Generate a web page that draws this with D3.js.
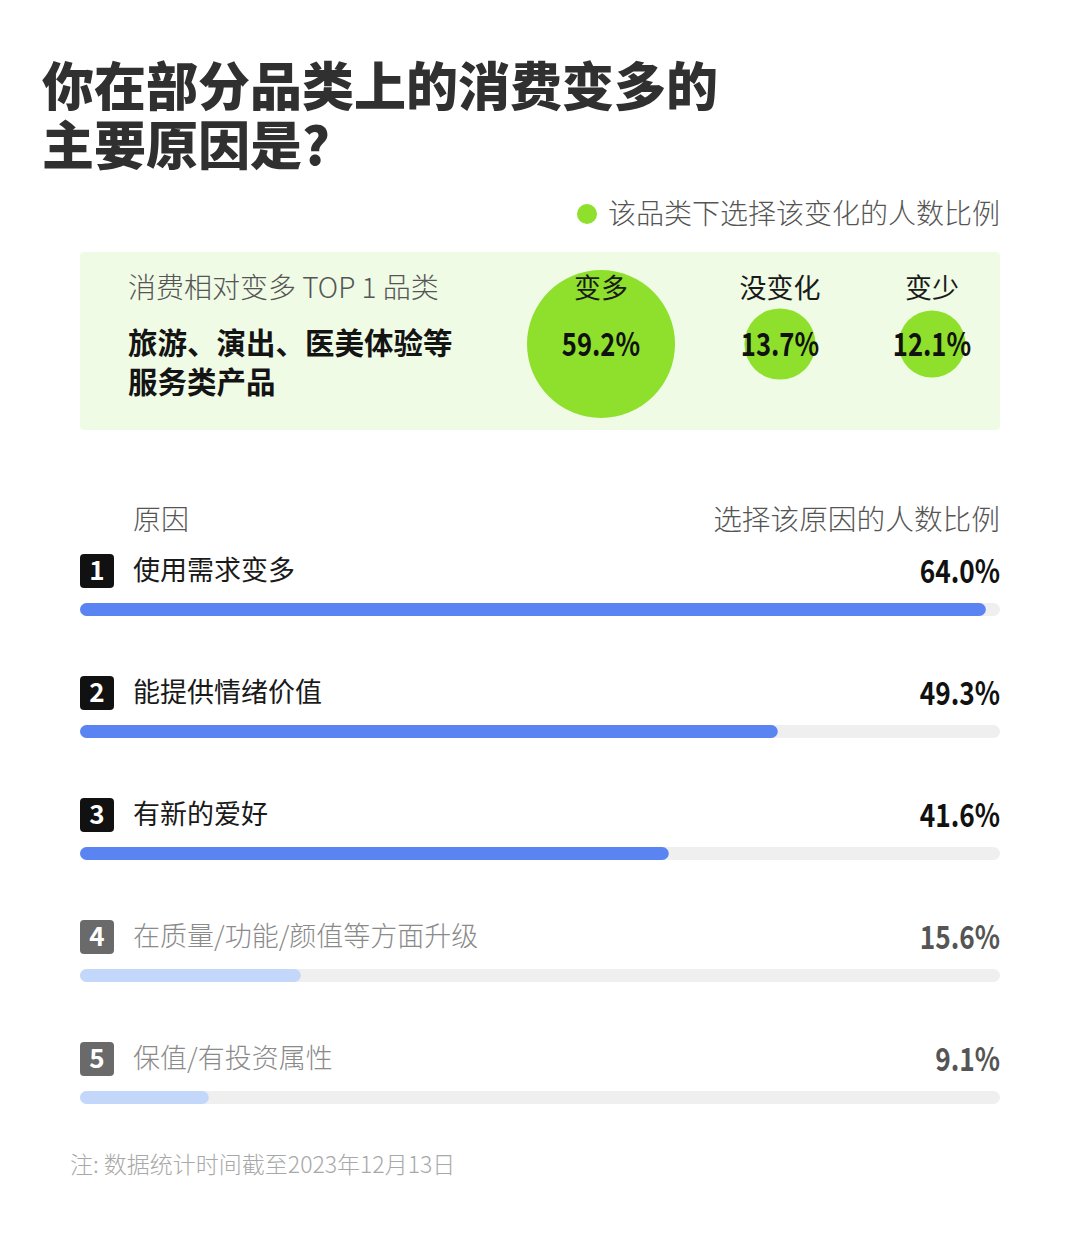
<!DOCTYPE html>
<html>
<head>
<meta charset="utf-8">
<script src="https://d3js.org/d3.v7.min.js"></script>
<style>
  body { margin: 0; background: #fff; }
  svg text { font-family: "Noto Sans CJK SC", "Noto Sans", sans-serif; }
</style>
</head>
<body>
<div id="chart"></div>
<script>
    const width = 1080
    const height = 1248

    // top-1 category: share of respondents by change
    const changeLabels = ["变多", "没变化", "变少"]
    const changeValues = [59.2, 13.7, 12.1]

    // reasons for spending more
    const reasons = ["使用需求变多", "能提供情绪价值", "有新的爱好", "在质量/功能/颜值等方面升级", "保值/有投资属性"]
    const reasonValues = [64.0, 49.3, 41.6, 15.6, 9.1]

    const numFont = '"Noto Sans", "DejaVu Sans", sans-serif'

    const svg = d3.select("#chart").append("svg")
        .attr("width", width).attr("height", height)

    // squeeze numbers so they look like the condensed face in the original
    const condense = (sel, k) => sel.each(function () {
        const len = this.getComputedTextLength()
        d3.select(this).attr("textLength", len * k).attr("lengthAdjust", "spacingAndGlyphs")
    })

    // title
    svg.append("text").attr("x", 42).attr("y", 106)
        .attr("font-size", 52).attr("font-weight", 900).attr("fill", "#303030")
        .text("你在部分品类上的消费变多的")
    svg.append("text").attr("x", 42).attr("y", 165)
        .attr("font-size", 52).attr("font-weight", 900).attr("fill", "#303030")
        .text("主要原因是?")

    // legend
    svg.append("circle").attr("cx", 587).attr("cy", 214).attr("r", 10).attr("fill", "#8ee02c")
    svg.append("text").attr("x", 1000).attr("y", 224).attr("text-anchor", "end")
        .attr("font-size", 28).attr("font-weight", 300).attr("fill", "#555")
        .text("该品类下选择该变化的人数比例")

    // green panel
    svg.append("rect").attr("x", 80).attr("y", 252).attr("width", 920).attr("height", 178)
        .attr("rx", 4).attr("fill", "#effbe5")

    svg.append("text").attr("x", 128).attr("y", 298)
        .attr("font-size", 28).attr("font-weight", 300).attr("fill", "#555")
        .text("消费相对变多 TOP 1 品类")
    svg.append("text").attr("x", 128).attr("y", 354)
        .attr("font-size", 29.5).attr("font-weight", 700).attr("fill", "#141414")
        .text("旅游、演出、医美体验等")
    svg.append("text").attr("x", 128).attr("y", 393)
        .attr("font-size", 29.5).attr("font-weight", 700).attr("fill", "#141414")
        .text("服务类产品")

    const xChange = d3.scalePoint().domain(changeLabels).range([601, 932])
    const rScale = d3.scaleSqrt().domain([0, d3.max(changeValues)]).range([0, 74])
    // the middle bubble sits a bit right of the even split
    const cx = d => d === "没变化" ? 780 : xChange(d)

    const bub = svg.append("g").selectAll("g")
        .data(changeLabels.map((d, i) => ({ label: d, value: changeValues[i] })))
        .enter().append("g")
    bub.append("circle")
        .attr("cx", d => cx(d.label)).attr("cy", 344)
        .attr("r", d => rScale(d.value)).attr("fill", "#8ee02c")
    bub.append("text")
        .attr("x", d => cx(d.label)).attr("y", 298).attr("text-anchor", "middle")
        .attr("font-size", 27).attr("fill", "#1a1a1a")
        .text(d => d.label)
    bub.append("text")
        .attr("x", d => cx(d.label)).attr("y", 356).attr("text-anchor", "middle")
        .attr("font-family", numFont).attr("font-size", 32).attr("font-weight", 700).attr("fill", "#111")
        .text(d => d.value.toFixed(1) + "%")
        .call(condense, 0.8)

    // reason list header
    svg.append("text").attr("x", 133).attr("y", 530)
        .attr("font-size", 28).attr("font-weight", 300).attr("fill", "#555").text("原因")
    svg.append("text").attr("x", 1000).attr("y", 530).attr("text-anchor", "end")
        .attr("font-size", 28.7).attr("font-weight", 300).attr("fill", "#555").text("选择该原因的人数比例")

    const xBar = d3.scaleLinear().domain([0, 65]).range([80, 1000])
    const yRow = d3.scalePoint().domain(reasons).range([571, 1059])

    const rows = svg.append("g").selectAll("g")
        .data(reasons.map((d, i) => ({ label: d, value: reasonValues[i], idx: i })))
        .enter().append("g")
        .attr("transform", d => "translate(0," + yRow(d.label) + ")")

    const top3 = d => d.idx < 3

    rows.append("rect")
        .attr("x", 80).attr("y", -17).attr("width", 34).attr("height", 34).attr("rx", 4)
        .attr("fill", d => top3(d) ? "#111" : "#6a6a6a")
    rows.append("text")
        .attr("x", 97).attr("y", 9).attr("text-anchor", "middle")
        .attr("font-family", numFont).attr("font-size", 26).attr("font-weight", 700).attr("fill", "#fff")
        .text(d => d.idx + 1)
    rows.append("text")
        .attr("x", 133).attr("y", 9)
        .attr("font-size", 27).attr("font-weight", d => top3(d) ? 400 : 300)
        .attr("fill", d => top3(d) ? "#1a1a1a" : "#8a8a8a")
        .text(d => d.label)
    rows.append("text")
        .attr("x", 1000).attr("y", 12).attr("text-anchor", "end")
        .attr("font-family", numFont).attr("font-size", 32).attr("font-weight", 700)
        .attr("fill", d => top3(d) ? "#111" : "#555")
        .text(d => d.value.toFixed(1) + "%")
        .call(condense, 0.82)

    // track + bar
    rows.append("rect")
        .attr("x", xBar(0)).attr("y", 32).attr("width", xBar(65) - xBar(0)).attr("height", 13)
        .attr("rx", 6.5).attr("fill", "#efefef")
    rows.append("rect")
        .attr("x", xBar(0)).attr("y", 32).attr("width", d => xBar(d.value) - xBar(0)).attr("height", 13)
        .attr("rx", 6.5).attr("fill", d => top3(d) ? "#5b84f3" : "#c3d7fb")

    // note
    svg.append("text").attr("x", 70).attr("y", 1173)
        .attr("font-size", 23).attr("font-weight", 300).attr("fill", "#a8a8a8")
        .text("注: 数据统计时间截至2023年12月13日")
</script>
</body>
</html>
